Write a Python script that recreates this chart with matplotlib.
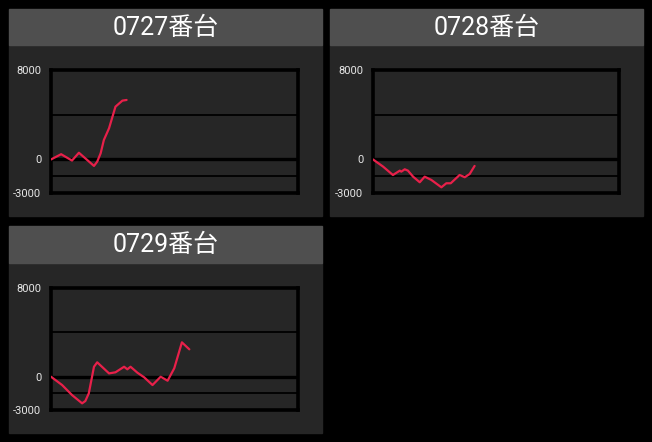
import matplotlib
matplotlib.use("Agg")
import matplotlib.pyplot as plt
from matplotlib.patches import Rectangle

plt.rcParams['font.family'] = ['Roboto', 'Noto Sans CJK JP', 'DejaVu Sans']

# data (x = game index, y = difference in coins)
titles = ["0727番台", "0728番台", "0729番台"]

x_0727 = [0, 4.1, 8.5, 11.3, 17.4, 18.7, 20.1, 21.4, 23.5, 26.1, 28.9, 30.6]
y_0727 = [0, 470, -100, 600, -580, -200, 550, 1740, 2790, 4720, 5260, 5320]

x_0728 = [0, 4.1, 8.1, 10.9, 11.5, 12.9, 14.2, 16.3, 19, 21, 23.7, 27.8,
          29.8, 31.6, 35.2, 37.3, 39.3, 41.3]
y_0728 = [0, -640, -1390, -1000, -1090, -880, -1000, -1540, -2040, -1540,
          -1830, -2490, -2130, -2130, -1390, -1590, -1300, -580]

x_0729 = [0, 4.5, 8.5, 12.6, 13.9, 15.3, 17.4, 18.7, 23.5, 26.1, 29.6, 30.9,
          32.2, 35, 37.7, 41.1, 44.4, 47.2, 49.9, 53, 56]
y_0729 = [0, -750, -1650, -2400, -2190, -1500, 900, 1300, 300, 400, 900, 670,
          900, 360, -50, -750, 0, -360, 760, 3100, 2470]

series = [(x_0727, y_0727), (x_0728, y_0728), (x_0729, y_0729)]
yticks = [8000, 0, -3000]
grid_lines = [4000, -1500]

W, H = 652, 442
BG = "#000000"
CARD = "#262626"
HEAD = "#4f4f4f"
LINE = "#e8204a"

# card boxes in pixels: left, top, right, bottom, header bottom
cards = [(9, 9, 322, 216, 45), (330, 9, 643, 216, 45), (9, 226, 322, 433, 263)]
# plot boxes in pixels: left, top, right, bottom
plots = [(51, 70, 298, 193), (373, 70, 619, 193), (51, 288, 298, 410)]

fig = plt.figure(figsize=(W / 100, H / 100), dpi=100)
fig.patch.set_facecolor(BG)

def fx(px):
    return px / W

def fy(py):
    return 1 - py / H

for i in range(3):
    l, t, r, b, hb = cards[i]
    fig.patches.append(Rectangle((fx(l), fy(b)), fx(r) - fx(l), fy(hb) - fy(b),
                                 transform=fig.transFigure, color=CARD, zorder=-10))
    fig.patches.append(Rectangle((fx(l), fy(hb)), fx(r) - fx(l), fy(t) - fy(hb),
                                 transform=fig.transFigure, color=HEAD, zorder=-10))
    fig.text(fx((l + r) / 2), fy((t + hb) / 2 + 1), titles[i], color="white",
             fontsize=18, ha="center", va="center")

    pl, pt, pr, pb = plots[i]
    ax = fig.add_axes([fx(pl), fy(pb), fx(pr) - fx(pl), fy(pt) - fy(pb)])
    ax.set_facecolor(CARD)
    xs, ys = series[i]
    for g in grid_lines:
        ax.axhline(g, color="black", lw=1.3, zorder=1)
    ax.axhline(0, color="black", lw=2.4, zorder=1)
    ax.plot(xs, ys, color=LINE, lw=1.6, zorder=3, solid_capstyle="round")
    ax.set_xlim(0, 100)
    ax.set_ylim(-3000, 8000)
    ax.set_xticks([])
    ax.set_yticks(yticks)
    ax.set_yticklabels([str(v) for v in yticks])
    ax.tick_params(axis="y", length=0, pad=7, labelsize=8, labelcolor="#e6e6e6")
    for s in ax.spines.values():
        s.set_color("black")
        s.set_linewidth(2.6)

fig.savefig("out.png", dpi=100, facecolor=BG)
